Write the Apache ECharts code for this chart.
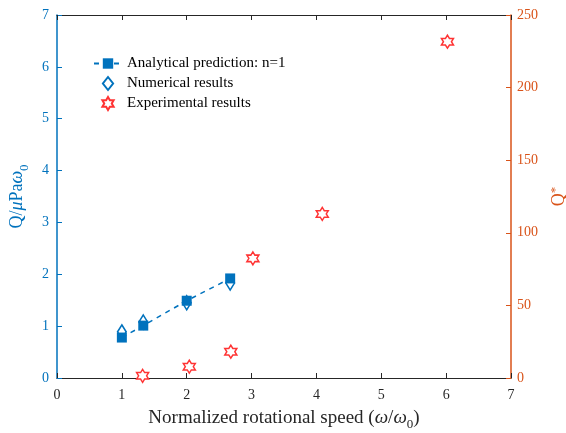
<!DOCTYPE html>
<html>
<head>
<meta charset="utf-8">
<script src="https://cdn.jsdelivr.net/npm/echarts@6/dist/echarts.min.js"></script>
<style>html,body{margin:0;padding:0;background:#fff}#c{width:566px;height:433px}</style>
</head>
<body>
<div id="c"></div>
<script>
// Data
var analyticalX = [1, 1.33, 2, 2.67];
var analyticalY = [0.78, 1.01, 1.49, 1.92];
var numericalX = [1, 1.33, 2, 2.67];
var numericalY = [0.89, 1.08, 1.45, 1.83];
var experimentalX = [1.32, 2.04, 2.68, 3.02, 4.09, 6.02];
var experimentalY = [1.5, 7.8, 18.1, 82.4, 113, 231.6];
var xTicks = [0, 1, 2, 3, 4, 5, 6, 7];
var leftTicks = [0, 1, 2, 3, 4, 5, 6, 7];
var rightTicks = [0, 50, 100, 150, 200, 250];
var seriesNames = ['Analytical prediction: n=1', 'Numerical results', 'Experimental results'];

function pairs(xs, ys) { return xs.map(function (x, i) { return [x, ys[i]]; }); }

var BLUE = '#0072BD', ORANGE = '#D95319', RED = '#FF3333', DARK = '#262626';
var FONT = 'Liberation Serif';
var hexagram = 'path://M100 0L128.9 50L186.6 50L157.7 100L186.6 150L128.9 150L100 200L71.1 150L13.4 150L42.3 100L13.4 50L71.1 50Z';
var diamondPath = 'path://M55 0L110 70L55 140L0 70Z';

var chart = echarts.init(document.getElementById('c'));
chart.setOption({
  animation: false,
  textStyle: { fontFamily: FONT },
  grid: { left: 57, right: 55, top: 15, bottom: 55, containLabel: false, outerBoundsMode: 'none' },
  legend: {
    left: 88, top: 51, orient: 'vertical', itemGap: 5, itemWidth: 28, itemHeight: 13,
    textStyle: { fontFamily: FONT, fontSize: 15, color: '#000' },
    data: seriesNames
  },
  xAxis: [{
    type: 'value', min: xTicks[0], max: xTicks[xTicks.length - 1], interval: 1,
    name: '{n|Normalized rotational speed (}{i|ω}{n|/}{i|ω}{s|0}{n|)}',
    nameLocation: 'middle', nameGap: 27,
    nameTextStyle: {
      rich: {
        n: { fontFamily: FONT, fontSize: 19, color: DARK },
        i: { fontFamily: FONT, fontSize: 19, fontStyle: 'italic', color: DARK },
        s: { fontFamily: FONT, fontSize: 13, color: DARK, padding: [13, 0, 0, 0] }
      }
    },
    axisLine: { onZero: false, lineStyle: { color: DARK, width: 1.2 } },
    axisTick: { inside: true, length: 5, lineStyle: { color: DARK } },
    axisLabel: { fontFamily: FONT, fontSize: 14, color: DARK, margin: 10 },
    splitLine: { show: false }
  }, {
    type: 'value', position: 'top', min: xTicks[0], max: xTicks[xTicks.length - 1], interval: 1,
    axisLine: { show: true, onZero: false, lineStyle: { color: DARK, width: 1.2 } },
    axisTick: { show: true, inside: true, length: 5, lineStyle: { color: DARK } },
    axisLabel: { show: false }, splitLine: { show: false }
  }],
  yAxis: [{
    type: 'value', position: 'left', min: leftTicks[0], max: leftTicks[leftTicks.length - 1], interval: 1,
    name: '{n|Q/}{i|μ}{n|Pa}{i|ω}{s|0}',
    nameLocation: 'middle', nameRotate: 90, nameGap: 18,
    nameTextStyle: {
      rich: {
        n: { fontFamily: FONT, fontSize: 18, color: BLUE },
        i: { fontFamily: FONT, fontSize: 18, fontStyle: 'italic', color: BLUE },
        s: { fontFamily: FONT, fontSize: 13, color: BLUE, padding: [14, 0, 0, 0] }
      }
    },
    axisLine: { show: true, onZero: false, lineStyle: { color: BLUE, width: 1.5 } },
    axisTick: { show: true, inside: true, length: 5, lineStyle: { color: BLUE } },
    axisLabel: { fontFamily: FONT, fontSize: 14, color: BLUE, margin: 8 },
    splitLine: { show: false }
  }, {
    type: 'value', position: 'right', min: rightTicks[0], max: rightTicks[rightTicks.length - 1], interval: 50,
    name: '{n|Q}{s|*}',
    nameLocation: 'middle', nameRotate: 90, nameGap: 32,
    nameTextStyle: {
      rich: {
        n: { fontFamily: FONT, fontSize: 18, color: ORANGE },
        s: { fontFamily: FONT, fontSize: 13, color: ORANGE, padding: [0, 0, 8, 0] }
      }
    },
    axisLine: { show: true, onZero: false, lineStyle: { color: ORANGE, width: 1.5 } },
    axisTick: { show: true, inside: true, length: 5, lineStyle: { color: ORANGE } },
    axisLabel: { fontFamily: FONT, fontSize: 14, color: ORANGE, margin: 6 },
    splitLine: { show: false }
  }],
  series: [{
    name: seriesNames[0], type: 'line', xAxisIndex: 0, yAxisIndex: 0,
    data: pairs(analyticalX, analyticalY),
    symbol: 'rect', symbolSize: 10,
    lineStyle: { color: BLUE, width: 1.5, type: [5, 5] },
    itemStyle: { color: BLUE, borderColor: BLUE, borderWidth: 0 },
    z: 3
  }, {
    name: seriesNames[1], type: 'scatter', xAxisIndex: 0, yAxisIndex: 0,
    data: pairs(numericalX, numericalY),
    symbol: diamondPath, symbolSize: [11, 14], symbolKeepAspect: true,
    itemStyle: { color: '#fff', borderColor: BLUE, borderWidth: 1.6, opacity: 1 },
    z: 2
  }, {
    name: seriesNames[2], type: 'scatter', xAxisIndex: 0, yAxisIndex: 1,
    data: pairs(experimentalX, experimentalY),
    symbol: hexagram, symbolSize: [12, 13],
    itemStyle: { color: '#fff', borderColor: RED, borderWidth: 1.5, opacity: 1 },
    z: 4
  }]
});
</script>
</body>
</html>
